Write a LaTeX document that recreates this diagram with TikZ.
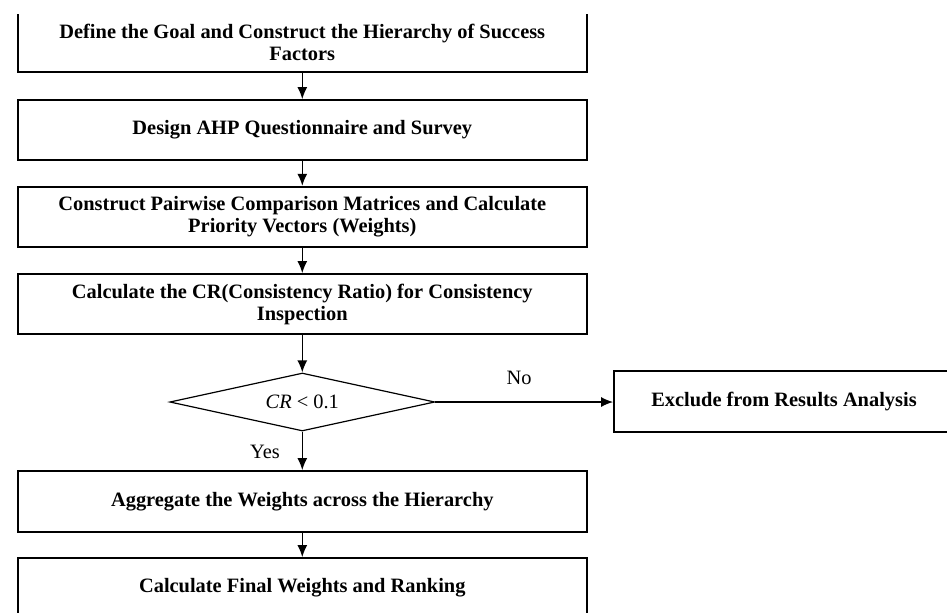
\documentclass[tikz,border=0pt]{standalone}
\usepackage{fontspec}
\setmainfont{Liberation Serif}
\usetikzlibrary{shapes.geometric,arrows.meta}

\begin{document}
\begin{tikzpicture}[x=0.5pt,y=-0.5pt]
\tikzstyle{every node}+=[inner sep=0pt]
\tikzstyle{stepbox}=[draw=black,line width=0.9pt,minimum width=284.5pt,minimum height=30pt,align=center,font=\bfseries\fontsize{10.2}{11}\selectfont]
\tikzstyle{testbox}=[diamond,aspect=4.57,draw=black,line width=0.6pt,minimum width=132.5pt,minimum height=29pt,font=\fontsize{10.2}{12}\selectfont]
\tikzstyle{label}=[font=\fontsize{10.2}{12}\selectfont]
\tikzstyle{flow}=[draw=black,line width=0.7pt,-{Latex[length=6pt,width=5pt]}]
\useasboundingbox (0,0) rectangle (947,612);
\clip (0,14) rectangle (947,612);
% main column
\node [stepbox] (goal) at (302.3,42.3) {Define the Goal and Construct the Hierarchy of Success\\Factors};
\node [stepbox] (survey) at (302.3,130) {Design AHP Questionnaire and Survey};
\node [stepbox] (matrix) at (302.3,216.7) {Construct Pairwise Comparison Matrices and Calculate\\Priority Vectors (Weights)};
\node [stepbox] (ratio) at (302.3,304) {Calculate the CR(Consistency Ratio) for Consistency\\Inspection};
\node [testbox] (check) at (302.3,402) {\textit{CR} < 0.1};
\node [stepbox,minimum width=170pt,minimum height=30.5pt] (exclude) at (784,401.5) {Exclude from Results Analysis};
\node [stepbox,minimum height=30.5pt] (aggregate) at (302.3,501.5) {Aggregate the Weights across the Hierarchy};
\node [stepbox] (ranking) at (302.3,588) {Calculate Final Weights and Ranking};
% labels
\node [label] (no) at (519,378) {No};
\node [label] (yes) at (265,452) {Yes};
% arrows
\draw [flow] (goal) -- (survey);
\draw [flow] (survey) -- (matrix);
\draw [flow] (matrix) -- (ratio);
\draw [flow] (ratio) -- (check);
\draw [flow] (check.east) -- (exclude.west |- check.east);
\draw [flow] (check) -- (aggregate);
\draw [flow] (aggregate) -- (ranking);
\end{tikzpicture}
\end{document}
